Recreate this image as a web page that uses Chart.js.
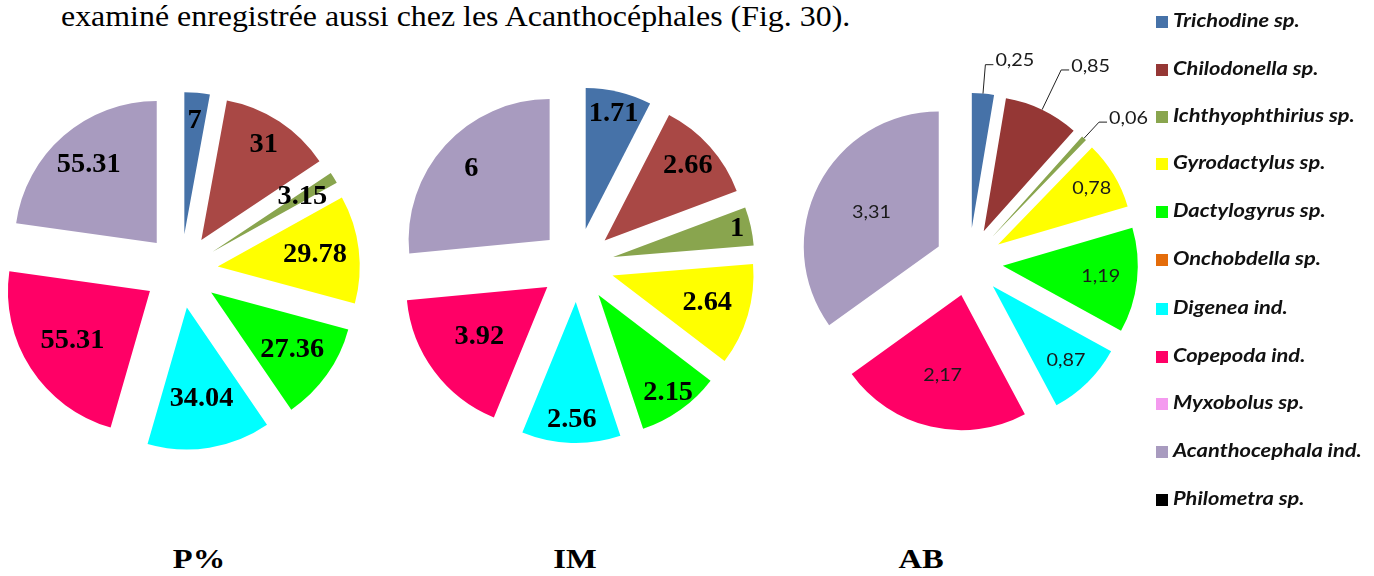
<!DOCTYPE html>
<html>
<head>
<meta charset="utf-8">
<script src="https://cdn.jsdelivr.net/npm/chart.js@4.4.1/dist/chart.umd.min.js"></script>
<style>
 body{margin:0;background:#fff;width:1374px;height:576px;overflow:hidden;position:relative;font-family:"Liberation Serif",serif;}
 canvas{position:absolute;}
 #head{position:absolute;left:61px;top:2px;font-size:29px;line-height:29px;white-space:nowrap;color:#000;transform:scaleX(1.1);transform-origin:0 0;}
 .ttl{position:absolute;top:545px;font-weight:bold;font-size:28px;line-height:28px;transform:translateX(-50%) scaleX(1.16);color:#000;}
 #legend{position:absolute;left:1156px;top:0;font-family:Lato,sans-serif;font-style:italic;font-weight:bold;font-size:19px;color:#111;}
 .li{position:absolute;left:0;white-space:nowrap;height:22px;line-height:22px;}
 .li .sq{display:inline-block;width:12px;height:12px;margin-right:5px;vertical-align:-1px;}
 .li .tx{display:inline-block;transform:scaleX(1.15);transform-origin:0 50%;}
</style>
</head>
<body>
<div id="head">examiné enregistrée aussi chez les Acanthocéphales (Fig. 30).</div>
<canvas id="c_p" width="380" height="400" style="left:-9px;top:71px"></canvas>
<canvas id="c_im" width="380" height="400" style="left:387px;top:65px"></canvas>
<canvas id="c_ab" width="440" height="480" style="left:749px;top:22px"></canvas>
<div class="ttl" style="left:199px">P%</div>
<div class="ttl" style="left:575px">IM</div>
<div class="ttl" style="left:921px">AB</div>
<div id="legend"></div>
<script>
// data
var categories=["Trichodine sp.","Chilodonella sp.","Ichthyophthirius sp.","Gyrodactylus sp.","Dactylogyrus sp.","Onchobdella sp.","Digenea ind.","Copepoda ind.","Myxobolus sp.","Acanthocephala ind.","Philometra sp."];
var valuesP=[7,31,3.15,29.78,27.36,0,34.04,55.31,0,55.31,0];
var valuesIM=[1.71,2.66,1,2.64,2.15,0,2.56,3.92,0,6,0];
var valuesAB=[0.25,0.85,0.06,0.78,1.19,0,0.87,2.17,0,3.31,0];
var colors=["#4672A8","#A94845","#89A54E","#FFFF00","#00FF00","#E46C0A","#00FFFF","#FF0066","#F49AEF","#A89BBF","#000000"];
var colorsAB=["#4672A8","#953735","#89A54E","#FFFF00","#00FF00","#E46C0A","#00FFFF","#FF0066","#F49AEF","#A89BBF","#000000"];

// move each slice out along its middle angle
function explodePlugin(dist){
 return {
  id:'explode',
  afterDatasetUpdate:function(chart,args){
   args.meta.data.forEach(function(arc){
    var mid=(arc.startAngle+arc.endAngle)/2;
    arc.x+=Math.cos(mid)*dist;
    arc.y+=Math.sin(mid)*dist;
   });
  }
 };
}

// value labels, inside or with a leader line
function labelPlugin(cfg){
 function put(ctx,txt,x,y,align){
  ctx.save();
  ctx.translate(x,y);ctx.scale(cfg.stretch,1);
  ctx.textAlign=align;ctx.fillText(txt,0,0);
  ctx.restore();
 }
 return {
  id:'sliceLabels',
  afterDatasetsDraw:function(chart){
   var ctx=chart.ctx,meta=chart.getDatasetMeta(0),data=chart.data.datasets[0].data;
   ctx.save();
   ctx.font=cfg.font;ctx.fillStyle=cfg.color;ctx.textBaseline='middle';
   meta.data.forEach(function(arc,i){
    if(!data[i]) return;
    var mid=(arc.startAngle+arc.endAngle)/2,r=arc.outerRadius,txt=cfg.format(data[i]);
    var out=cfg.outside&&cfg.outside[i];
    if(out){
     var x0=arc.x+Math.cos(mid)*r,y0=arc.y+Math.sin(mid)*r;
     var x1=arc.x+Math.cos(mid)*(r+out),y1=arc.y+Math.sin(mid)*(r+out);
     ctx.strokeStyle='#222';ctx.lineWidth=1;
     ctx.beginPath();ctx.moveTo(x0,y0);ctx.lineTo(x1,y1);ctx.lineTo(x1+8,y1);ctx.stroke();
     put(ctx,txt,x1+10,y1-4,'left');
    }else{
     var f=cfg.pos[i];
     put(ctx,txt,arc.x+Math.cos(mid)*r*f,arc.y+Math.sin(mid)*r*f,'center');
    }
   });
   ctx.restore();
  }
 };
}

function pie(id,values,cols,radius,dist,labels){
 return new Chart(document.getElementById(id),{
  type:'pie',
  data:{labels:categories,datasets:[{data:values,backgroundColor:cols,borderWidth:0,radius:radius}]},
  options:{
   responsive:false,
   animation:false,
   layout:{padding:0},
   plugins:{legend:{display:false},tooltip:{enabled:false}}
  },
  plugins:[explodePlugin(dist),labelPlugin(labels)]
 });
}

var serifBold='bold 27px "Liberation Serif"';
pie('c_p',valuesP,colors,142,37,{
 font:serifBold,color:'#000',stretch:1.05,
 format:function(v){return String(v);},
 pos:[0.80,0.80,0.74,0.69,0.70,0,0.65,0.65,0,0.73,0]
});
pie('c_im',valuesIM,colors,141,37,{
 font:serifBold,color:'#000',stretch:1.05,
 format:function(v){return String(v);},
 pos:[0.84,0.79,0.90,0.70,0.85,0,0.84,0.60,0,0.75,0]
});
pie('c_ab',valuesAB,colorsAB,135,34,{
 font:'18px Lato',color:'#1a1a1a',stretch:1.1,
 format:function(v){return v.toFixed(2).replace('.',',');},
 pos:[0,0,0,0.81,0.73,0,0.77,0.61,0,0.56,0],
 outside:{0:29,1:44,2:22}
});

// legend
var legendY=[20,68,115,162,210,258,307,355,402,450,498];
var lg=document.getElementById('legend');
categories.forEach(function(c,i){
 var d=document.createElement('div');
 d.className='li';
 d.style.top=(legendY[i]-11)+'px';
 d.innerHTML='<span class="sq" style="background:'+colorsAB[i]+'"></span><span class="tx">'+c+'</span>';
 lg.appendChild(d);
});
</script>
</body>
</html>
